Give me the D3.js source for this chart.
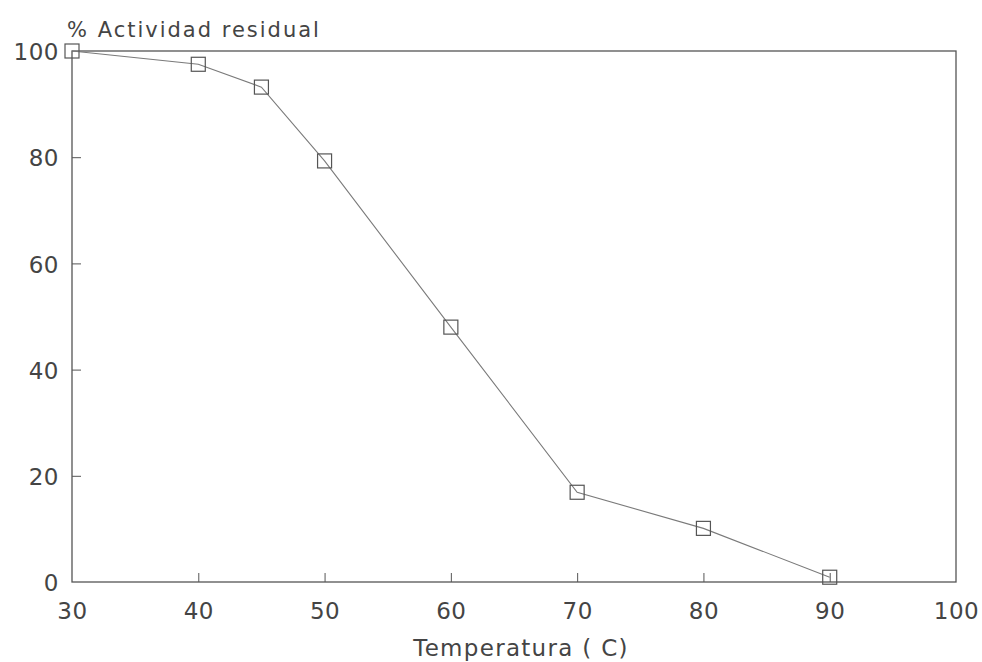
<!DOCTYPE html>
<html><head><meta charset="utf-8">
<script src="https://cdn.jsdelivr.net/npm/d3@7"></script>
<style>body{margin:0;background:#fff}svg text{font-family:"DejaVu Sans",sans-serif;fill:#444}</style>
</head><body><svg id="c" width="982" height="662"></svg>
<script>
const temps = [30, 40, 45, 50, 60, 70, 80, 90];
const activity = [100, 97.5, 93.2, 79.3, 48.0, 16.9, 10.1, 0.9];
const xTicks = [30, 40, 50, 60, 70, 80, 90, 100];
const yTicks = [0, 20, 40, 60, 80, 100];
const xTitle = "Temperatura ( C)";
const yTitle = "% Actividad residual";

const svg = d3.select("#c");
const x = d3.scaleLinear().domain([30, 100]).range([72, 956]);
const y = d3.scaleLinear().domain([0, 100]).range([582, 51]);
const col = "#555";

// frame
svg.append("rect").attr("x", x(30)).attr("y", y(100)).attr("width", x(100)-x(30)).attr("height", y(0)-y(100))
  .attr("fill", "none").attr("stroke", col).attr("stroke-width", 1.3);

// axes with inward ticks
const xa = svg.append("g").attr("transform", `translate(0,${y(0)})`)
  .call(d3.axisBottom(x).tickValues(xTicks).tickSizeInner(-9).tickSizeOuter(0).tickPadding(21).tickFormat(d3.format("d")));
xa.select(".domain").remove();
xa.selectAll("line").attr("stroke", col);
xa.selectAll(".tick").filter(d => d === 30 || d === 100).select("line").remove();
xa.selectAll("text").attr("font-size", 23).attr("fill", "#444").attr("letter-spacing", 0.5);

const ya = svg.append("g").attr("transform", `translate(${x(30)},0)`)
  .call(d3.axisLeft(y).tickValues(yTicks).tickSizeInner(-9).tickSizeOuter(0).tickPadding(13).tickFormat(d3.format("d")));
ya.select(".domain").remove();
ya.selectAll("line").attr("stroke", col);
ya.selectAll(".tick").filter(d => d === 0 || d === 100).select("line").remove();
ya.selectAll("text").attr("font-size", 23).attr("fill", "#444").attr("letter-spacing", 0.5).attr("dy", "0.38em");

// line
svg.append("path").datum(temps.map((t, i) => [t, activity[i]]))
  .attr("fill", "none").attr("stroke", "#7a7a7a").attr("stroke-width", 1.1)
  .attr("d", d3.line().x(d => x(d[0])).y(d => y(d[1])));

// markers
const s = 14;
svg.selectAll("rect.m").data(temps.map((t, i) => [t, activity[i]])).join("rect").attr("class", "m")
  .attr("x", d => x(d[0]) - s/2).attr("y", d => y(d[1]) - s/2).attr("width", s).attr("height", s)
  .attr("fill", "none").attr("stroke", "#555").attr("stroke-width", 1.2);

// titles
svg.append("text").attr("x", 67).attr("y", 37).attr("font-size", 21).attr("letter-spacing", 2).text(yTitle);
svg.append("text").attr("x", 521).attr("y", 656).attr("text-anchor", "middle").attr("font-size", 23).attr("letter-spacing", 1.3).text(xTitle);
</script></body></html>
